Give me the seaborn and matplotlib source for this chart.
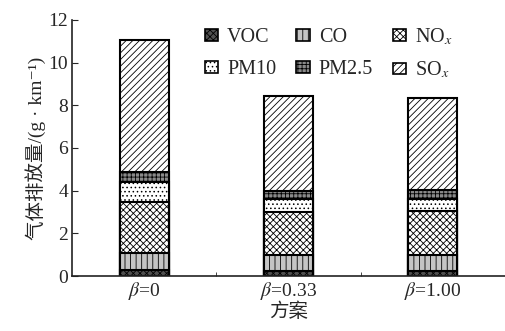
import matplotlib
matplotlib.use("Agg")
import matplotlib.pyplot as plt
from matplotlib.patches import Patch
import seaborn as sns
import numpy as np
import pandas as pd

categories = [r"$\beta$=0", r"$\beta$=0.33", r"$\beta$=1.00"]
pollutants = ["VOC", "CO", r"NO$_x$", "PM10", "PM2.5", r"SO$_x$"]
voc = [0.30, 0.25, 0.25]
co = [0.79, 0.73, 0.75]
nox = [2.39, 2.02, 2.03]
pm10 = [0.94, 0.62, 0.60]
pm25 = [0.47, 0.38, 0.40]
sox = [6.16, 4.45, 4.32]
yticks = [0, 2, 4, 6, 8, 10, 12]

series = [voc, co, nox, pm10, pm25, sox]
faces = ["#505050", "#c4c4c4", "white", "white", "#8a8a8a", "white"]
hatches = ["xxxxx", "|||", "xxxxx", "....", "++++", "/////"]

sns.set_style("ticks")
plt.rcParams["font.family"] = ["Liberation Serif", "Noto Sans CJK SC", "DejaVu Sans"]
plt.rcParams["mathtext.fontset"] = "stix"
plt.rcParams["hatch.linewidth"] = 0.6

fig = plt.figure(figsize=(5.05, 3.31), dpi=100)
ax = fig.add_axes([0.143, 0.166, 0.857, 0.774])

cum = np.cumsum(np.array(series), axis=0)
for i in range(len(series) - 1, -1, -1):
    df = pd.DataFrame({"cat": categories, "val": cum[i]})
    sns.barplot(data=df, x="cat", y="val", ax=ax, color=faces[i],
                hatch=hatches[i], edgecolor="black", linewidth=1.5,
                width=0.34, saturation=1)

ax.set_xlim(-0.5, 2.5)
ax.set_ylim(0, 12)
ax.set_yticks(yticks)
ax.set_yticklabels([str(t) for t in yticks], fontsize=14)
ax.set_xticks([0, 1, 2])
ax.set_xticklabels(categories, fontsize=14)
ax.tick_params(axis="x", length=0, pad=3)
ax.set_xticks([0.5, 1.5], minor=True)
ax.tick_params(axis="x", which="minor", direction="in", length=3)
ax.tick_params(axis="y", direction="in", length=4, pad=3)
ax.set_xlabel("方案", fontsize=14, labelpad=0)
ax.set_ylabel("气体排放量/(g · km⁻¹)", fontsize=14, labelpad=2)
for s in ["top", "right"]:
    ax.spines[s].set_visible(False)
for s in ["left", "bottom"]:
    ax.spines[s].set_linewidth(1.2)
    ax.spines[s].set_color("#222222")

handles = [Patch(facecolor=faces[i], edgecolor="black", hatch=hatches[i], linewidth=1.2)
           for i in range(6)]
order = [0, 3, 1, 4, 2, 5]
ax.legend([handles[i] for i in order], [pollutants[i] for i in order],
          ncol=3, loc="upper left", bbox_to_anchor=(0.307, 0.975),
          borderaxespad=0, borderpad=0,
          frameon=False, fontsize=14.5, handlelength=0.65, handleheight=0.5,
          handletextpad=0.45, columnspacing=1.0, labelspacing=0.65)

fig.savefig("out.png", dpi=100)
